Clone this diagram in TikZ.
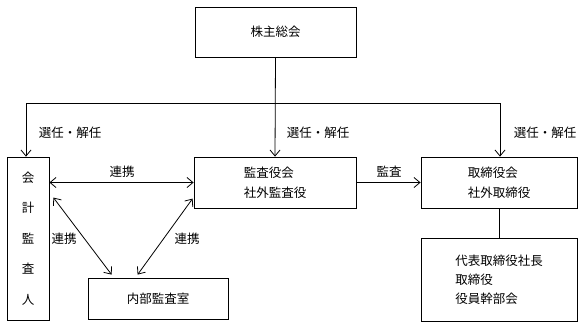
\documentclass[tikz,border=0pt]{standalone}
\usepackage{fontspec}
\setmainfont{Noto Sans CJK JP}
\usetikzlibrary{arrows.meta}
\begin{document}
\begin{tikzpicture}[x=1pt,y=-1pt,
  every node/.style={font=\fontsize{12.5}{20}\selectfont},
  box/.style={draw, line width=0.8pt, inner sep=0pt, align=left},
  conn/.style={line width=0.8pt},
  arr/.style={conn, -{Straight Barb[length=6pt,width=10pt]}},
  darr/.style={conn, {Straight Barb[length=6pt,width=10pt]}-{Straight Barb[length=6pt,width=10pt]}},
  lbl/.style={inner sep=0pt}]
\useasboundingbox (0,0) rectangle (588,325);
% boxes
\node[box, minimum width=161pt, minimum height=50pt] (kabu) at (275.5,32) {株主総会};
\node[box, minimum width=162pt, minimum height=51pt] (kansa) at (275,182.5) {監査役会\\社外監査役};
\node[box, minimum width=156pt, minimum height=51pt] (tori) at (499,182.5) {取締役会\\社外取締役};
\node[box, minimum width=156pt, minimum height=83pt, font=\fontsize{12.5}{19}\selectfont] (daihyo) at (499,279.5) {代表取締役社長\\取締役\\役員幹部会};
\node[box, minimum width=42pt, minimum height=163pt, align=center, font=\fontsize{12.5}{30.5}\selectfont] (kaikei) at (28,238.5) {会\\計\\監\\査\\人};
\node[box, minimum width=140pt, minimum height=41pt] (naibu) at (158,298.5) {内部監査室};
% connector coordinates
\coordinate (hl) at (26,103);
\coordinate (hr) at (500,103);
% connectors
\draw[arr] (kabu.south) -- (kansa.north);
\draw[conn] (hl) -- (hr);
\draw[arr] (hl) -- (hl |- kaikei.north);
\draw[arr] (hr) -- (hr |- tori.north);
\draw[darr] (kansa.west -| kaikei.east) -- (kansa.west);
\draw[arr] (kansa.east) -- (tori.west);
\draw[conn] (tori.south -| daihyo.north) -- (daihyo.north);
\draw[darr] ([shift={(4,41)}]kaikei.north east) -- ([shift={(24,-3)}]naibu.north west);
\draw[darr] ([shift={(-1,42)}]kansa.north west) -- ([shift={(50,-3)}]naibu.north west);
% labels
\node[lbl] (l1) at (70,133) {選任・解任};
\node[lbl] (l2) at (318,133) {選任・解任};
\node[lbl] (l3) at (545,133) {選任・解任};
\node[lbl] (l4) at (122,172) {連携};
\node[lbl] (l5) at (389,172) {監査};
\node[lbl] (l6) at (64,239) {連携};
\node[lbl] (l7) at (187,239) {連携};
\end{tikzpicture}
\end{document}
